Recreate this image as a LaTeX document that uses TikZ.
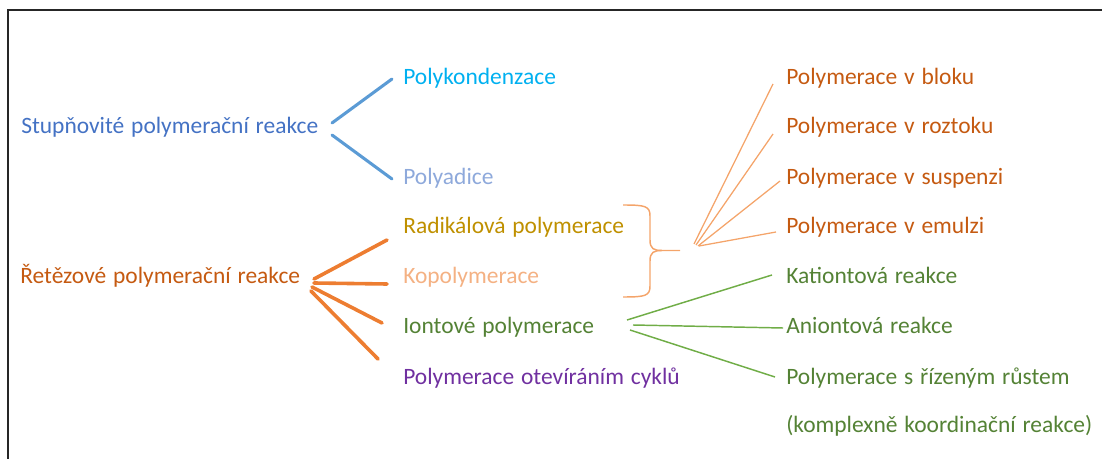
\documentclass[tikz,border=0pt]{standalone}
\usepackage{fontspec}
\setmainfont{Carlito}
\definecolor{stupc}{HTML}{4472C4}
\definecolor{blueln}{HTML}{5B9BD5}
\definecolor{polykc}{HTML}{00B0F0}
\definecolor{polyadc}{HTML}{8EA9DB}
\definecolor{retc}{HTML}{C55A11}
\definecolor{oranln}{HTML}{ED7D31}
\definecolor{radc}{HTML}{BF9000}
\definecolor{kopc}{HTML}{F4B183}
\definecolor{greenc}{HTML}{548235}
\definecolor{greenln}{HTML}{70AD47}
\definecolor{cyklc}{HTML}{7030A0}
\definecolor{thinor}{HTML}{F4A46A}
\newcommand\mylblfont{\fontsize{17.6}{21}\selectfont\spaceskip 0.29em plus 0.1em\relax}
\begin{document}
\begin{tikzpicture}[x=0.75pt,y=-0.75pt,
  lbl/.style={font=\mylblfont, inner sep=0pt, anchor=base west},
  thickblue/.style={draw=blueln, line width=2.3pt, line cap=round},
  thickor/.style={draw=oranln, line width=2.7pt, line cap=round},
  thinorln/.style={draw=thinor, line width=0.95pt},
  greenline/.style={draw=greenln, line width=1.1pt},
  frame/.style={draw=black!85, line width=1.3pt}]
\useasboundingbox (0,0) rectangle (1102,459);
% frame
\coordinate (fa) at (8,459);
\coordinate (fb) at (8,10);
\coordinate (fc) at (1102,10);
\draw[frame] (fa) -- (fb) -- (fc);

% left labels
\node[lbl, text=stupc] (stup) at (21,134) {Stupňovité polymerační reakce};
\node[lbl, text=retc] (ret) at (20,284) {Řetězové polymerační reakce};
% middle labels
\node[lbl, text=polykc] (polyk) at (403,84.5) {Polykondenzace};
\node[lbl, text=polyadc] (polyad) at (403,185) {Polyadice};
\node[lbl, text=radc] (rad) at (403,234) {Radikálová polymerace};
\node[lbl, text=kopc] (kop) at (403,284) {Kopolymerace};
\node[lbl, text=greenc] (iont) at (403,334) {Iontové polymerace};
\node[lbl, text=cyklc] (cykl) at (403,384) {Polymerace otevíráním cyklů};
% right labels
\node[lbl, text=retc] (blok) at (786,84.5) {Polymerace v bloku};
\node[lbl, text=retc] (rozt) at (786,134) {Polymerace v roztoku};
\node[lbl, text=retc] (susp) at (786,185) {Polymerace v suspenzi};
\node[lbl, text=retc] (emul) at (786,234) {Polymerace v emulzi};
\node[lbl, text=greenc] (kat) at (786,284) {Kationtová reakce};
\node[lbl, text=greenc] (anion) at (786,334) {Aniontová reakce};
\node[lbl, text=greenc] (rizen) at (786,384) {Polymerace s řízeným růstem};
\node[lbl, text=greenc] (kompl) at (786,432) {(komplexně koordinační reakce)};

% blue connectors
\coordinate (s1) at (332,123);
\coordinate (s2) at (332,135);
\coordinate (pk) at (392,79);
\coordinate (pa) at (392,179);
\draw[thickblue] (s1) -- (pk);
\draw[thickblue] (s2) -- (pa);

% orange connectors
\coordinate (r1) at (314,279);
\coordinate (r2) at (314,283);
\coordinate (r3) at (312,287);
\coordinate (r4) at (311,291);
\coordinate (rad0) at (387,240);
\coordinate (kop0) at (387,284);
\coordinate (iont0) at (382,323);
\coordinate (cykl0) at (378,359);
\draw[thickor] (r1) -- (rad0);
\draw[thickor] (r2) -- (kop0);
\draw[thickor] (r3) -- (iont0);
\draw[thickor] (r4) -- (cykl0);

% brace
\coordinate (bt) at (623,205);
\coordinate (bb) at (623,297);
\coordinate (btip) at (680,250.5);
\draw[draw=thinor, line width=1.1pt]
  (bt) .. controls (645,205) and (650,206) .. (650,216)
  -- (650,240) .. controls (650,249) and (654,250.5) .. (662,250.5)
  -- (btip);
\draw[draw=thinor, line width=1.1pt]
  (bb) .. controls (645,297) and (650,296) .. (650,286)
  -- (650,261) .. controls (650,252) and (654,250.5) .. (662,250.5);

% thin orange fan
\coordinate (f1) at (694,244);
\coordinate (f2) at (696,245);
\coordinate (f3) at (698,246);
\coordinate (f4) at (699,246);
\coordinate (bl0) at (773,84);
\coordinate (ro0) at (773,134);
\coordinate (su0) at (780,181);
\coordinate (em0) at (776,232);
\draw[thinorln] (f1) -- (bl0);
\draw[thinorln] (f2) -- (ro0);
\draw[thinorln] (f3) -- (su0);
\draw[thinorln] (f4) -- (em0);

% green fan
\coordinate (g1) at (627,320);
\coordinate (g2) at (633,325);
\coordinate (g3) at (630,330);
\coordinate (kat0) at (772,275);
\coordinate (an0) at (783,328);
\coordinate (ri0) at (775,377);
\draw[greenline] (g1) -- (kat0);
\draw[greenline] (g2) -- (an0);
\draw[greenline] (g3) -- (ri0);
\end{tikzpicture}
\end{document}
